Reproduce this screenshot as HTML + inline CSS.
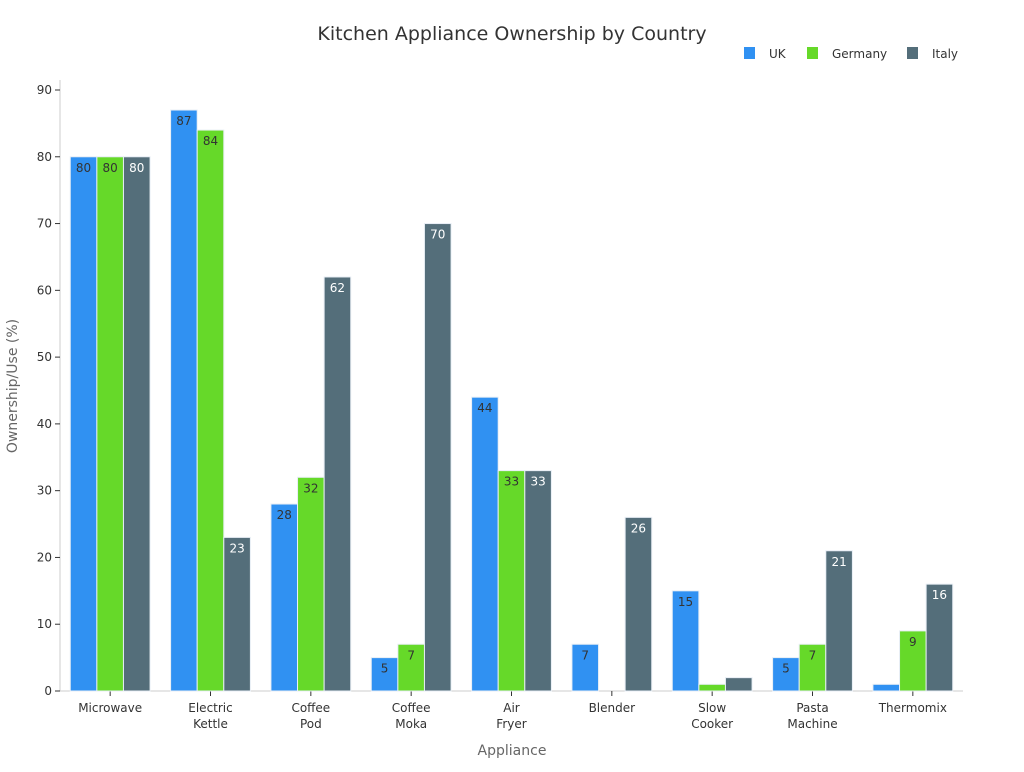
<!DOCTYPE html>
<html><head><meta charset="utf-8"><style>
body{margin:0;background:#fff;font-family:"DejaVu Sans","Liberation Sans",sans-serif;}
svg text{font-family:"DejaVu Sans","Liberation Sans",sans-serif;}
</style></head><body>
<svg id="chart" width="1024" height="768" xmlns="http://www.w3.org/2000/svg">
<text x="512" y="40" text-anchor="middle" font-size="19" fill="#333">Kitchen Appliance Ownership by Country</text>
<g font-size="12" fill="#333">
<g><rect x="744" y="47" width="11" height="12" fill="#3091f2"/><text x="769" y="58">UK</text></g>
<g><rect x="807" y="47" width="11" height="12" fill="#66d929"/><text x="832" y="58">Germany</text></g>
<g><rect x="907" y="47" width="11" height="12" fill="#546e7a"/><text x="932" y="58">Italy</text></g>
</g>
<text transform="translate(17,386) rotate(-90)" text-anchor="middle" font-size="14" fill="#666">Ownership/Use (%)</text>
<text x="512" y="755" text-anchor="middle" font-size="14" fill="#666">Appliance</text>
<g id="plot"></g>
</svg>
<script>
const categories=[["Microwave"],["Electric","Kettle"],["Coffee","Pod"],["Coffee","Moka"],["Air","Fryer"],["Blender"],["Slow","Cooker"],["Pasta","Machine"],["Thermomix"]];
const seriesNames=["UK","Germany","Italy"];
const ukValues=[80,87,28,5,44,7,15,5,1];
const germanyValues=[80,84,32,7,33,0,1,7,9];
const italyValues=[80,23,62,70,33,26,2,21,16];
const yTicks=[0,10,20,30,40,50,60,70,80,90];
const colors=["#3091f2","#66d929","#546e7a"];
const textColors=["#333","#333","#fff"];
const X0=60,X1=963,Y0=691,Y90=90;
const y=v=>Y0-(v/90)*(Y0-Y90);
const band=(X1-X0)/categories.length;
const xc=i=>X0+band*(i+0.5);
const bw=26.6;
const NS="http://www.w3.org/2000/svg";
const g=document.getElementById('plot');
function el(t,a){const e=document.createElementNS(NS,t);for(const k in a)e.setAttribute(k,a[k]);g.appendChild(e);return e;}
const ya=el('line',{x1:X0,x2:X0,y1:80,y2:Y0,stroke:'#ccc'});


const xa=el('line',{x1:X0,x2:X1,y1:Y0,y2:Y0,stroke:'#ccc'});


yTicks.forEach(t=>{
 const l=el('line',{x1:X0-5,x2:X0,y1:y(t),y2:y(t),stroke:'#333'});
 
 
 const tx=el('text',{x:X0-8,y:y(t)+4,'text-anchor':'end','font-size':12,fill:'#333'});
 tx.textContent=t;
 
 
});
const all=[ukValues,germanyValues,italyValues];
categories.forEach((c,i)=>{
 const l=el('line',{x1:xc(i),x2:xc(i),y1:Y0,y2:Y0+5,stroke:'#333'});
 
 
 const tx=el('text',{x:xc(i),y:Y0+21,'text-anchor':'middle','font-size':12,fill:'#333'});
 
 
 c.forEach((line,k)=>{const ts=document.createElementNS(NS,'tspan');ts.setAttribute('x',xc(i));ts.setAttribute('dy',k?16:0);ts.textContent=line;tx.appendChild(ts);});
 all.forEach((vals,s)=>{
  const v=vals[i];const bx=xc(i)+(s-1.5)*bw;
  const r=el('rect',{x:bx,y:y(v),width:bw,height:Y0-y(v),fill:colors[s],stroke:'#e8eef5','stroke-width':1});
  
  
  if(v>=3){
   const t=el('text',{x:bx+bw/2,y:y(v)+15,'text-anchor':'middle','font-size':12,fill:textColors[s]});
   t.textContent=v;
   
   
  }
 });
});
</script>
</body></html>
